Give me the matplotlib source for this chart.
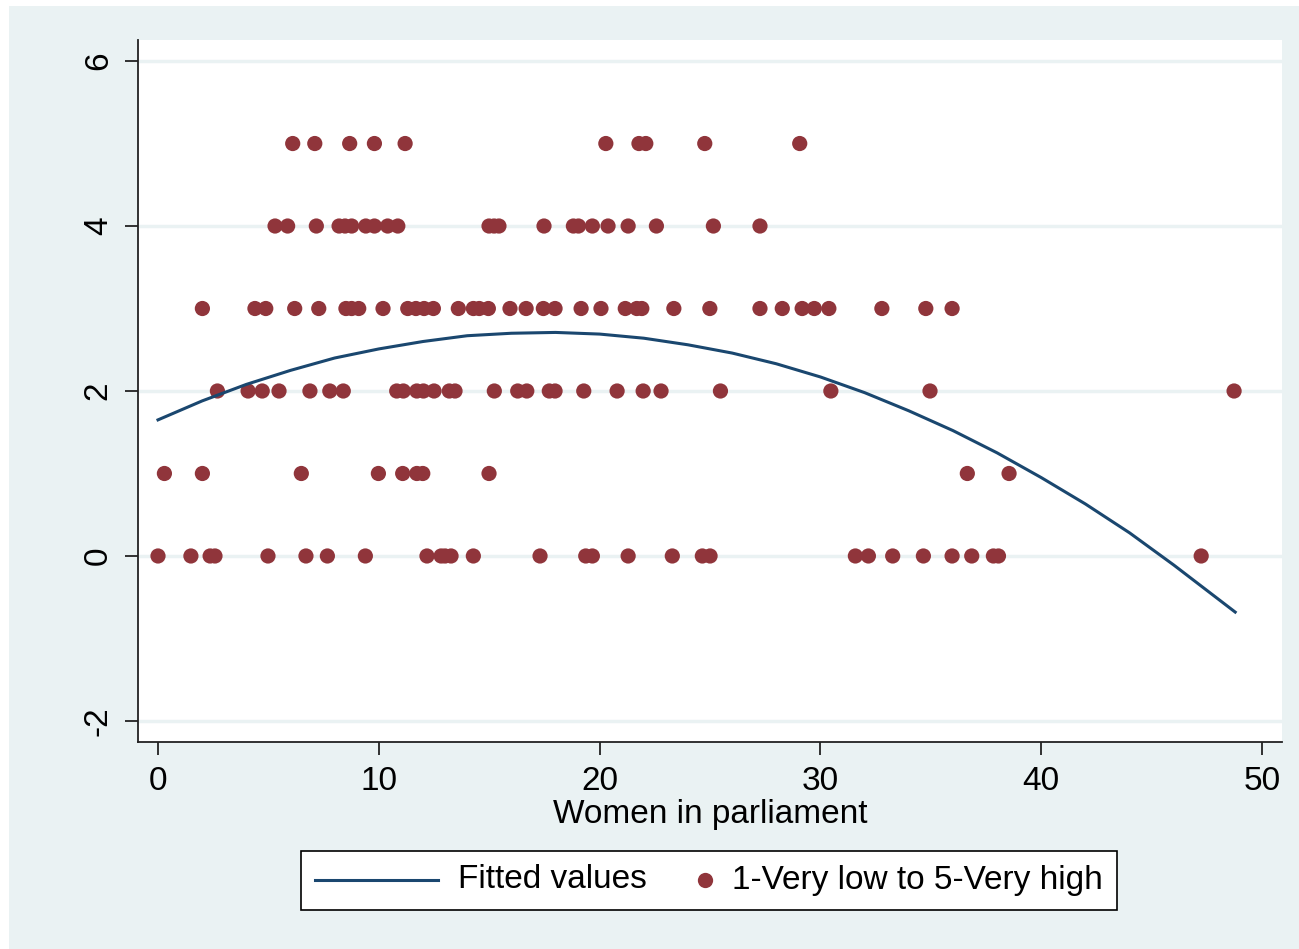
import numpy as np
import matplotlib
matplotlib.use("Agg")
import matplotlib.pyplot as plt
from matplotlib.patches import Rectangle
from matplotlib.lines import Line2D
from matplotlib.offsetbox import DrawingArea, TextArea, HPacker, AnchoredOffsetbox

plt.rcParams['font.family'] = ['Liberation Sans', 'DejaVu Sans']
plt.rcParams['axes.unicode_minus'] = False

# scatter data, grouped by rating level
x_lvl5 = [6.10, 7.10, 8.68, 9.80, 11.19, 20.28, 21.78, 22.09, 24.76, 29.06]
x_lvl4 = [5.30, 5.87, 7.17, 8.20, 8.47, 8.77, 9.41, 9.80, 10.40, 10.86,
          14.99, 15.22, 15.44, 17.48, 18.81, 19.04, 19.67, 20.38, 21.29,
          22.57, 25.15, 27.26]
x_lvl3 = [2.01, 4.39, 4.88, 6.19, 7.28, 8.51, 8.77, 9.09, 10.19, 11.31,
          11.68, 12.05, 12.47, 13.60, 14.28, 14.55, 14.96, 15.94, 16.67,
          17.45, 17.98, 19.16, 20.06, 21.16, 21.68, 21.91, 23.36, 24.99,
          27.26, 28.27, 29.17, 29.72, 30.38, 32.78, 34.77, 35.96]
x_lvl2 = [2.69, 4.08, 4.72, 5.48, 6.88, 7.78, 8.39, 10.81, 11.11, 11.72,
          12.02, 12.50, 13.19, 13.45, 15.23, 16.29, 16.70, 17.72, 17.98,
          19.28, 20.79, 21.97, 22.78, 25.47, 30.47, 34.96, 48.73]
x_lvl1 = [0.29, 2.01, 6.49, 9.98, 11.08, 11.72, 11.99, 14.99, 36.65, 38.54]
x_lvl0 = [0.00, 1.49, 2.36, 2.58, 4.98, 6.70, 7.67, 9.39, 12.18, 12.82,
          13.00, 13.27, 14.28, 17.30, 19.37, 19.67, 21.29, 23.29, 24.65,
          25.00, 31.58, 32.17, 33.27, 34.66, 35.96, 36.85, 37.83, 38.06,
          47.24]

# fitted curve
fit_x = [0, 2, 4, 6, 8, 10, 12, 14, 16, 18, 20, 22, 24, 26, 28, 30, 32,
         34, 36, 38, 40, 42, 44, 46, 48.78]
fit_y = [1.65, 1.88, 2.08, 2.25, 2.40, 2.51, 2.60, 2.67, 2.70, 2.71, 2.69,
         2.64, 2.56, 2.46, 2.33, 2.17, 1.98, 1.76, 1.52, 1.25, 0.95, 0.63,
         0.28, -0.11, -0.68]

levels = [5, 4, 3, 2, 1, 0]
groups = [x_lvl5, x_lvl4, x_lvl3, x_lvl2, x_lvl1, x_lvl0]
xs = np.concatenate([np.array(g) for g in groups])
ys = np.concatenate([np.full(len(g), lv) for g, lv in zip(groups, levels)])

bg = '#eaf2f3'
navy = '#1a476f'
maroon = '#90353b'
fs = 24

fig = plt.figure(figsize=(12.99, 9.49), dpi=100, facecolor='white')
fig.patches.append(Rectangle((9 / 1299, 0), 1, 1 - 6 / 949,
                             transform=fig.transFigure, facecolor=bg,
                             edgecolor='none', zorder=-10))

ax = fig.add_axes([138 / 1299, 1 - 742 / 949, 1144 / 1299, 702 / 949])
ax.set_facecolor('white')

for yv in [-2, 0, 2, 4, 6]:
    ax.axhline(yv, color=bg, lw=2.5, zorder=1)

ax.plot(fit_x, fit_y, color=navy, lw=2.2, zorder=3)
ax.scatter(xs, ys, s=120, color=maroon, edgecolors='none', zorder=2)

ax.set_xlim(-0.906, 50.9)
ax.set_ylim(-2.255, 6.255)
ax.set_xticks([0, 10, 20, 30, 40, 50])
ax.set_yticks([-2, 0, 2, 4, 6])

for s in ['top', 'right']:
    ax.spines[s].set_visible(False)
for s in ['left', 'bottom']:
    ax.spines[s].set_color('#222222')
    ax.spines[s].set_linewidth(1.3)

ax.tick_params(axis='both', length=9.4, width=1.3, color='#222222',
               labelsize=fs, pad=8)
for lbl in ax.get_yticklabels():
    lbl.set_rotation(90)
    lbl.set_va('center')

ax.set_xlabel('Women in parliament', fontsize=fs, labelpad=1)

# legend built by hand so the gaps match the Stata layout
da_line = DrawingArea(88, 16, 0, 0)
da_line.add_artist(Line2D([0, 88], [8, 8], color=navy, lw=2.2))
da_dot = DrawingArea(11, 16, 0, 0)
da_dot.add_artist(Line2D([5.5], [8], marker='o', ms=11, color=maroon,
                         markeredgewidth=0, linestyle='none'))
ta1 = TextArea('Fitted values', textprops=dict(size=fs))
ta2 = TextArea('1-Very low to 5-Very high', textprops=dict(size=fs))
item1 = HPacker(children=[da_line, ta1], sep=15, align='center')
item2 = HPacker(children=[da_dot, ta2], sep=14, align='center')
row = HPacker(children=[item1, item2], sep=36, align='center')
box = AnchoredOffsetbox(loc='center', child=row, pad=0.42, borderpad=0,
                        frameon=True, prop=dict(size=fs),
                        bbox_to_anchor=(709 / 1299, 1 - 880 / 949),
                        bbox_transform=fig.transFigure)
box.patch.set_edgecolor('black')
box.patch.set_facecolor('white')
box.patch.set_linewidth(1.2)
box.patch.set_boxstyle('square', pad=0)
fig.add_artist(box)

fig.savefig('out.png', dpi=100, facecolor=fig.get_facecolor())
